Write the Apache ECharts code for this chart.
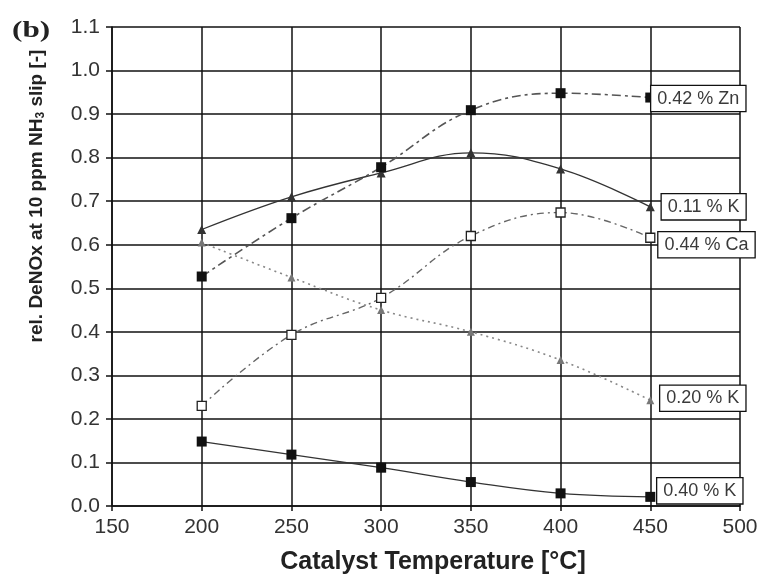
<!DOCTYPE html>
<html>
<head>
<meta charset="utf-8">
<script src="https://cdn.jsdelivr.net/npm/echarts@6/dist/echarts.min.js"></script>
<style>
  html, body { margin: 0; padding: 0; background: #fff; }
  #chart { width: 763px; height: 581px; }
</style>
</head>
<body>
<div id="chart"></div>
<script>
// Catalyst temperatures [°C]
const temperatures = [200, 250, 300, 350, 400, 450];

// Relative DeNOx at 10 ppm NH3 slip for each poisoned catalyst
const zn042 = [0.527, 0.661, 0.778, 0.909, 0.948, 0.938];
const k011 = [0.635, 0.710, 0.765, 0.811, 0.774, 0.687];
const ca044 = [0.230, 0.393, 0.478, 0.620, 0.674, 0.616];
const k020 = [0.605, 0.525, 0.450, 0.400, 0.335, 0.243];
const k040 = [0.148, 0.118, 0.088, 0.055, 0.029, 0.021];

const seriesNames = ['0.42 % Zn', '0.11 % K', '0.44 % Ca', '0.20 % K', '0.40 % K'];

const xTicks = [150, 200, 250, 300, 350, 400, 450, 500];
const yTicks = [0.0, 0.1, 0.2, 0.3, 0.4, 0.5, 0.6, 0.7, 0.8, 0.9, 1.0, 1.1];

const FONT = 'Liberation Sans';

// Point list; only the last point shows the boxed series label
function points(values) {
  return values.map((v, i) => {
    const item = { value: [temperatures[i], v] };
    if (i === values.length - 1) item.label = { show: true };
    return item;
  });
}

function lineSeries(name, values, opts) {
  return {
    name: name,
    type: 'line',
    smooth: 0.4,
    data: points(values),
    symbol: opts.symbol,
    symbolSize: opts.symbolSize,
    itemStyle: opts.itemStyle,
    lineStyle: opts.lineStyle,
    label: {
      show: false,
      position: 'right',
      distance: 0,
      offset: opts.labelOffset,
      formatter: '{a}',
      fontFamily: FONT,
      fontSize: 18,
      color: '#3a3a3a',
      backgroundColor: '#fff',
      borderColor: '#111',
      borderWidth: 1.3,
      padding: [4, 6, 3, 6]
    },
    z: opts.z || 3,
    clip: false
  };
}

const chart = echarts.init(document.getElementById('chart'), null, { renderer: 'canvas' });

chart.setOption({
  animation: false,
  backgroundColor: '#fff',
  grid: { left: 112, right: 23, top: 27, bottom: 75, containLabel: false },
  xAxis: {
    type: 'value',
    min: xTicks[0],
    max: xTicks[xTicks.length - 1],
    interval: 50,
    name: 'Catalyst Temperature [°C]',
    nameLocation: 'middle',
    nameGap: 44,
    nameTextStyle: { fontFamily: FONT, fontSize: 25, fontWeight: 'bold', color: '#222', padding: [0, 0, 0, 14] },
    axisLine: { show: true, lineStyle: { color: '#111', width: 1.5 } },
    axisTick: { show: true, length: 5, lineStyle: { color: '#111', width: 1.5 } },
    axisLabel: { fontFamily: FONT, fontSize: 21, color: '#333', margin: 11 },
    splitLine: { show: true, lineStyle: { color: '#111', width: 1.5 } }
  },
  yAxis: {
    type: 'value',
    min: yTicks[0],
    max: yTicks[yTicks.length - 1],
    interval: 0.1,
    axisLine: { show: true, lineStyle: { color: '#111', width: 1.5 } },
    axisTick: { show: true, length: 6, lineStyle: { color: '#111', width: 1.5 } },
    axisLabel: {
      fontFamily: FONT, fontSize: 21, color: '#333', margin: 12,
      formatter: v => v.toFixed(1)
    },
    splitLine: { show: true, lineStyle: { color: '#111', width: 1.5 } }
  },
  graphic: [
    {
      type: 'text',
      left: 12,
      top: 19,
      scaleX: 1.3,
      style: {
        text: '(b)',
        font: 'bold 24px "Liberation Serif", "DejaVu Serif", serif',
        fill: '#222'
      }
    },
    {
      // vertical axis title with subscripted 3 in NH3
      type: 'text',
      x: 37,
      y: 196,
      rotation: Math.PI / 2,
      style: {
        text: 'rel. DeNOx at 10 ppm NH{sub|3} slip [-]',
        font: 'bold 19px "Liberation Sans"',
        fill: '#222',
        align: 'center',
        verticalAlign: 'middle',
        rich: {
          sub: { font: 'bold 12px "Liberation Sans"', fill: '#222', padding: [8, 0, 0, 0] }
        }
      }
    }
  ],
  series: [
    lineSeries(seriesNames[0], zn042, {
      symbol: 'rect', symbolSize: 10,
      itemStyle: { color: '#111' },
      lineStyle: { color: '#555', width: 1.6, type: [9, 4, 3, 4] },
      labelOffset: [-4, 1], z: 4
    }),
    lineSeries(seriesNames[1], k011, {
      symbol: 'triangle', symbolSize: 9,
      itemStyle: { color: '#333' },
      lineStyle: { color: '#333', width: 1.3, type: 'solid' },
      labelOffset: [7, 0]
    }),
    lineSeries(seriesNames[2], ca044, {
      symbol: 'rect', symbolSize: 9,
      itemStyle: { color: '#fff', borderColor: '#222', borderWidth: 1.3 },
      lineStyle: { color: '#666', width: 1.4, type: [7, 4, 2, 4] },
      labelOffset: [3, 7]
    }),
    lineSeries(seriesNames[3], k020, {
      symbol: 'triangle', symbolSize: 8,
      itemStyle: { color: '#777' },
      lineStyle: { color: '#888', width: 1.6, type: [2, 4] },
      labelOffset: [6, -2]
    }),
    lineSeries(seriesNames[4], k040, {
      symbol: 'rect', symbolSize: 10,
      itemStyle: { color: '#111' },
      lineStyle: { color: '#333', width: 1.3, type: 'solid' },
      labelOffset: [2, -6]
    })
  ]
});
</script>
</body>
</html>
